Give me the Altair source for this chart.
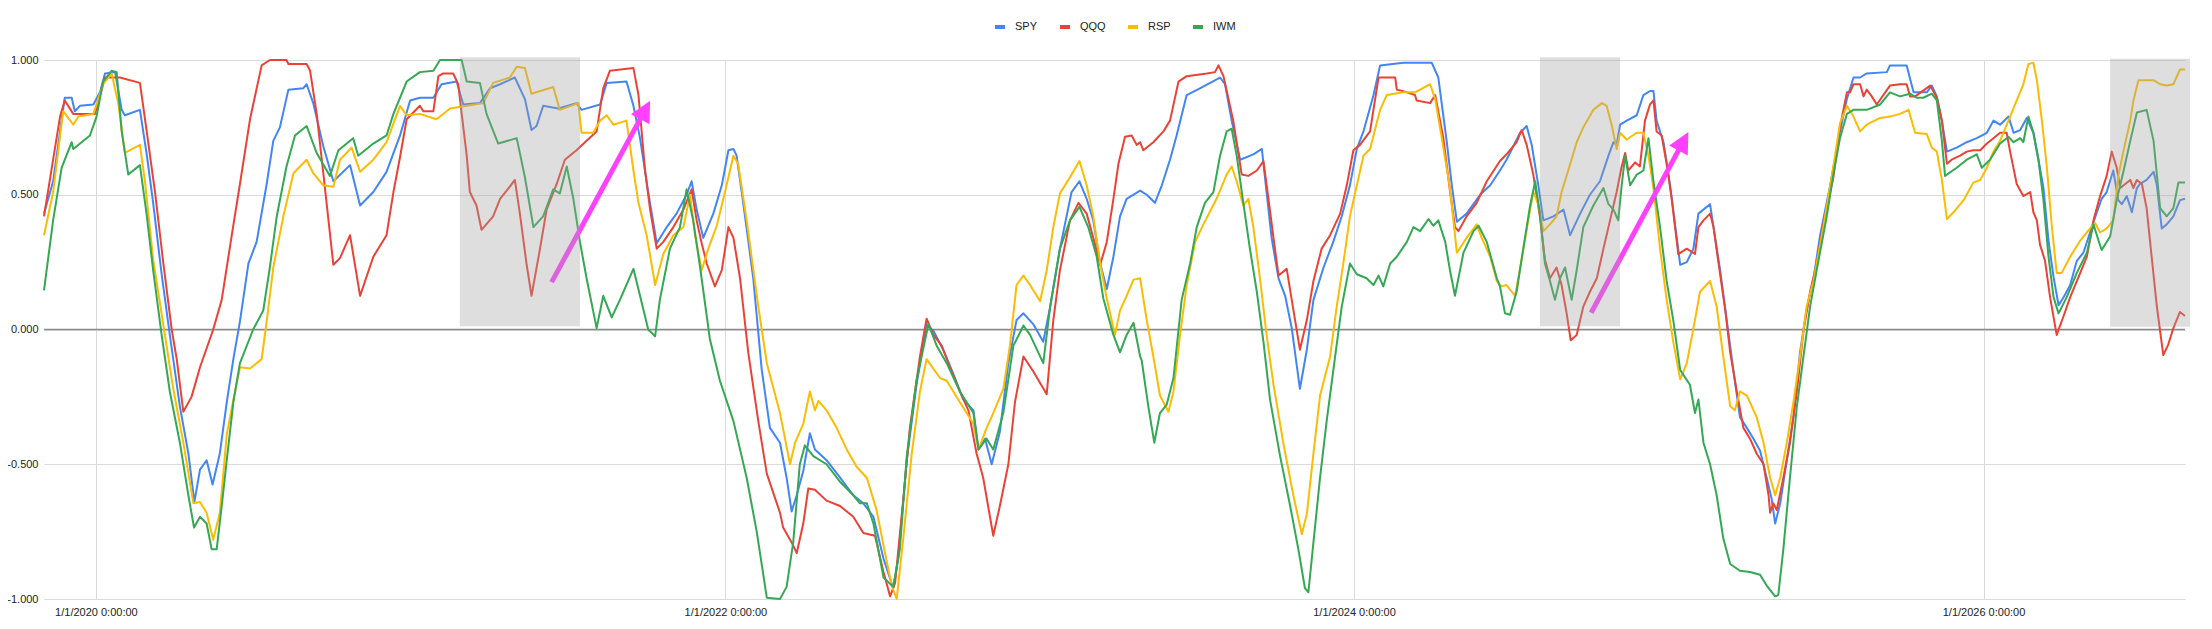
import altair as alt
import pandas as pd

# Rolling correlation readings, x as decimal year, one pair of lists per ETF
SPY_T = [2019.835, 2019.864, 2019.901, 2019.923, 2019.933, 2019.949, 2019.992, 2020.013, 2020.029, 2020.061,
         2020.082, 2020.092, 2020.140, 2020.161, 2020.182, 2020.209, 2020.235, 2020.267, 2020.294, 2020.313,
         2020.331, 2020.352, 2020.371, 2020.394, 2020.416, 2020.437, 2020.458, 2020.485, 2020.511, 2020.543,
         2020.564, 2020.585, 2020.612, 2020.659, 2020.670, 2020.691, 2020.723, 2020.755, 2020.808, 2020.840,
         2020.882, 2020.924, 2020.967, 2020.999, 2021.030,
         2021.073, 2021.099, 2021.147, 2021.168, 2021.221, 2021.253, 2021.285, 2021.332, 2021.364, 2021.385,
         2021.401, 2021.422, 2021.470, 2021.528, 2021.544, 2021.603, 2021.624, 2021.687, 2021.709, 2021.730,
         2021.756, 2021.783, 2021.815, 2021.846, 2021.878, 2021.894, 2021.910, 2021.931, 2021.963, 2021.990,
         2022.011, 2022.027, 2022.037, 2022.058, 2022.090, 2022.117, 2022.143, 2022.175,
         2022.196, 2022.212, 2022.228, 2022.249, 2022.270, 2022.286, 2022.323, 2022.366, 2022.408, 2022.440,
         2022.472, 2022.504, 2022.535, 2022.551, 2022.578, 2022.609, 2022.641, 2022.663, 2022.694, 2022.726,
         2022.758, 2022.790, 2022.806, 2022.827, 2022.848, 2022.874, 2022.901, 2022.927, 2022.949, 2022.980,
         2023.012, 2023.034, 2023.065, 2023.102, 2023.127, 2023.150, 2023.171, 2023.193, 2023.214, 2023.235,
         2023.256, 2023.277, 2023.320,
         2023.341, 2023.367, 2023.389, 2023.415, 2023.436, 2023.468, 2023.510, 2023.574, 2023.590, 2023.611,
         2023.638, 2023.680, 2023.707, 2023.722, 2023.738, 2023.760, 2023.781, 2023.802, 2023.828, 2023.850,
         2023.871, 2023.903, 2023.934, 2023.961, 2023.987, 2024.009, 2024.030, 2024.062, 2024.083, 2024.157,
         2024.247, 2024.268, 2024.295, 2024.311, 2024.327, 2024.358, 2024.401, 2024.433, 2024.464,
         2024.485, 2024.528, 2024.549, 2024.565, 2024.586, 2024.602, 2024.634, 2024.666, 2024.687, 2024.719,
         2024.750, 2024.782, 2024.809, 2024.825, 2024.835, 2024.846, 2024.867, 2024.899, 2024.920, 2024.941,
         2024.952, 2024.962, 2024.984, 2025.005, 2025.037, 2025.058, 2025.079, 2025.095, 2025.132, 2025.143,
         2025.164, 2025.185, 2025.206, 2025.227, 2025.249, 2025.270, 2025.291, 2025.312, 2025.328, 2025.339,
         2025.355, 2025.376, 2025.397, 2025.418, 2025.439, 2025.461, 2025.482, 2025.514, 2025.545, 2025.567,
         2025.588, 2025.609,
         2025.630, 2025.694, 2025.704, 2025.757, 2025.779, 2025.821, 2025.837, 2025.853, 2025.869, 2025.885,
         2025.916, 2025.948, 2025.980, 2026.012, 2026.033, 2026.054, 2026.081, 2026.097, 2026.118, 2026.139,
         2026.160, 2026.176, 2026.192, 2026.208, 2026.224, 2026.240, 2026.256, 2026.277, 2026.298, 2026.319,
         2026.340, 2026.362, 2026.377, 2026.393, 2026.414, 2026.430, 2026.441, 2026.457, 2026.473, 2026.489,
         2026.499, 2026.520, 2026.542, 2026.552, 2026.568, 2026.584, 2026.605, 2026.626, 2026.642]
SPY_V = [0.43, 0.55, 0.86, 0.86, 0.81, 0.83, 0.835, 0.88, 0.95, 0.955,
         0.815, 0.795, 0.815, 0.655, 0.47, 0.205, -0.02, -0.285, -0.46, -0.64,
         -0.52, -0.485, -0.575, -0.46, -0.27, -0.11, 0.03, 0.245, 0.325, 0.54,
         0.70, 0.75, 0.89, 0.895, 0.91, 0.84, 0.68, 0.55, 0.61, 0.46,
         0.51, 0.585, 0.72, 0.85, 0.86,
         0.86, 0.91, 0.92, 0.835, 0.84, 0.895, 0.91, 0.935, 0.855, 0.74,
         0.755, 0.83, 0.82, 0.84, 0.815, 0.835, 0.915, 0.92, 0.83, 0.71,
         0.51, 0.32, 0.38, 0.43, 0.50, 0.55, 0.445, 0.34, 0.43, 0.535,
         0.665, 0.67, 0.645, 0.47, 0.19, -0.15, -0.365, -0.42,
         -0.55, -0.675, -0.615, -0.525, -0.385, -0.445, -0.485, -0.55, -0.615, -0.645,
         -0.695, -0.85, -0.96, -0.85, -0.485, -0.205, 0.02, -0.005, -0.075, -0.165,
         -0.26, -0.30, -0.445, -0.405, -0.50, -0.38, -0.125, 0.035, 0.06, 0.02,
         -0.045, 0.085, 0.30, 0.51, 0.55, 0.485, 0.405, 0.245, 0.15, 0.27,
         0.42, 0.485, 0.515,
         0.50, 0.47, 0.535, 0.63, 0.72, 0.87, 0.895, 0.935, 0.91, 0.775,
         0.63, 0.65, 0.67, 0.51, 0.34, 0.19, 0.125, 0.005, -0.22, -0.075,
         0.11, 0.23, 0.325, 0.42, 0.535, 0.67, 0.735, 0.87, 0.98, 0.99,
         0.99, 0.935, 0.695, 0.535, 0.40, 0.43, 0.50, 0.535, 0.59,
         0.63, 0.73, 0.755, 0.685, 0.535, 0.405, 0.42, 0.445, 0.35, 0.43,
         0.50, 0.55, 0.645, 0.695, 0.685, 0.76, 0.775, 0.795, 0.87, 0.885,
         0.885, 0.775, 0.695, 0.535, 0.24, 0.25, 0.30, 0.43, 0.465, 0.38,
         0.22, 0.035, -0.15, -0.325, -0.365, -0.405, -0.45, -0.55, -0.63, -0.72,
         -0.645, -0.485, -0.325, -0.085, 0.075, 0.19, 0.35, 0.535, 0.735, 0.855,
         0.935, 0.935,
         0.95, 0.955, 0.98, 0.98, 0.88, 0.88, 0.905, 0.865, 0.775, 0.66,
         0.675, 0.695, 0.71, 0.73, 0.775, 0.76, 0.79, 0.73, 0.74, 0.785,
         0.73, 0.63, 0.525, 0.33, 0.195, 0.09, 0.12, 0.165, 0.255, 0.285,
         0.36, 0.435, 0.485, 0.51, 0.59, 0.48, 0.465, 0.495, 0.435, 0.525,
         0.54, 0.555, 0.585, 0.54, 0.375, 0.39, 0.42, 0.48, 0.485]

QQQ_T = [2019.835, 2019.886, 2019.901, 2019.928, 2019.997, 2020.029, 2020.076, 2020.140, 2020.161, 2020.188,
         2020.214, 2020.241, 2020.257, 2020.278, 2020.304, 2020.331, 2020.373, 2020.400, 2020.432, 2020.458,
         2020.490, 2020.527, 2020.553, 2020.606, 2020.612, 2020.670, 2020.681, 2020.702, 2020.723, 2020.755,
         2020.776, 2020.808, 2020.840, 2020.882, 2020.924, 2020.946, 2020.967, 2020.988, 2021.030,
         2021.041, 2021.073, 2021.089, 2021.104, 2021.136, 2021.152, 2021.163, 2021.179, 2021.189, 2021.210,
         2021.226, 2021.263, 2021.285, 2021.316, 2021.332, 2021.348, 2021.369, 2021.385, 2021.412, 2021.433,
         2021.465, 2021.491, 2021.528, 2021.560, 2021.592, 2021.613, 2021.634, 2021.709, 2021.725, 2021.746,
         2021.762, 2021.783, 2021.804, 2021.836, 2021.868, 2021.894, 2021.910, 2021.926, 2021.942, 2021.968,
         2021.990, 2022.011, 2022.027, 2022.048, 2022.074, 2022.106, 2022.133, 2022.175,
         2022.185, 2022.212, 2022.228, 2022.249, 2022.265, 2022.286, 2022.323, 2022.366, 2022.408, 2022.440,
         2022.477, 2022.504, 2022.525, 2022.541, 2022.567, 2022.588, 2022.620, 2022.641, 2022.663, 2022.689,
         2022.715, 2022.747, 2022.774, 2022.800, 2022.821, 2022.853, 2022.874, 2022.901, 2022.922, 2022.949,
         2022.980, 2023.023, 2023.044, 2023.065, 2023.097, 2023.124, 2023.150, 2023.171, 2023.193, 2023.214,
         2023.235, 2023.251, 2023.272, 2023.293, 2023.309, 2023.320,
         2023.330, 2023.362, 2023.394, 2023.415, 2023.442, 2023.468, 2023.532, 2023.558, 2023.569, 2023.585,
         2023.616, 2023.643, 2023.664, 2023.691, 2023.712, 2023.728, 2023.744, 2023.760, 2023.786, 2023.802,
         2023.828, 2023.850, 2023.871, 2023.897, 2023.924, 2023.956, 2023.977, 2023.998, 2024.019, 2024.051,
         2024.078, 2024.115, 2024.131, 2024.136, 2024.168, 2024.194, 2024.199, 2024.242, 2024.258, 2024.284,
         2024.305, 2024.321, 2024.332, 2024.358, 2024.390, 2024.422, 2024.464,
         2024.485, 2024.517, 2024.533, 2024.549, 2024.570, 2024.591, 2024.607, 2024.623, 2024.644, 2024.660,
         2024.676, 2024.689, 2024.708, 2024.729, 2024.750, 2024.772, 2024.793, 2024.814, 2024.835, 2024.851,
         2024.862, 2024.872, 2024.894, 2024.909, 2024.925, 2024.941, 2024.952, 2024.962, 2024.978, 2024.994,
         2025.010, 2025.031, 2025.058, 2025.084, 2025.095, 2025.111, 2025.132, 2025.143, 2025.159, 2025.180,
         2025.196, 2025.217, 2025.238, 2025.259, 2025.280, 2025.302, 2025.318, 2025.323, 2025.333, 2025.344,
         2025.365, 2025.386, 2025.408, 2025.429, 2025.450, 2025.471, 2025.492, 2025.524, 2025.545, 2025.567,
         2025.577, 2025.588, 2025.609,
         2025.620, 2025.630, 2025.646, 2025.662, 2025.704, 2025.736, 2025.757, 2025.768, 2025.784, 2025.832,
         2025.853, 2025.869, 2025.885, 2025.900, 2025.927, 2025.948, 2025.969, 2025.991, 2026.012, 2026.033,
         2026.054, 2026.075, 2026.086, 2026.107, 2026.128, 2026.150, 2026.160, 2026.171, 2026.181, 2026.197,
         2026.213, 2026.234, 2026.256, 2026.277, 2026.309, 2026.330, 2026.351, 2026.372, 2026.393, 2026.409,
         2026.425, 2026.436, 2026.452, 2026.468, 2026.478, 2026.489, 2026.505, 2026.520, 2026.536, 2026.552,
         2026.573, 2026.589, 2026.605, 2026.626, 2026.642]
QQQ_V = [0.42, 0.79, 0.85, 0.80, 0.80, 0.935, 0.935, 0.915, 0.74, 0.51,
         0.25, 0.0, -0.11, -0.305, -0.25, -0.14, 0.0, 0.11, 0.35, 0.54,
         0.78, 0.98, 1.0, 1.0, 0.985, 0.985, 0.96, 0.80, 0.58, 0.24,
         0.265, 0.35, 0.125, 0.27, 0.35, 0.51, 0.64, 0.78, 0.83,
         0.81, 0.81, 0.94, 0.95, 0.95, 0.91, 0.80, 0.645, 0.51, 0.46,
         0.37, 0.42, 0.485, 0.53, 0.555, 0.43, 0.245, 0.125, 0.30, 0.445,
         0.54, 0.63, 0.665, 0.70, 0.735, 0.895, 0.96, 0.97, 0.87, 0.59,
         0.445, 0.30, 0.325, 0.38, 0.445, 0.52, 0.405, 0.32, 0.245, 0.16,
         0.22, 0.38, 0.34, 0.19, -0.085, -0.34, -0.535, -0.68,
         -0.735, -0.79, -0.83, -0.72, -0.59, -0.595, -0.635, -0.655, -0.695, -0.755,
         -0.765, -0.90, -0.99, -0.94, -0.63, -0.365, -0.10, 0.04, -0.02, -0.06,
         -0.14, -0.23, -0.30, -0.46, -0.55, -0.765, -0.655, -0.50, -0.27, -0.10,
         -0.155, -0.24, 0.035, 0.22, 0.405, 0.47, 0.43, 0.34, 0.24, 0.325,
         0.485, 0.615, 0.715, 0.72, 0.685, 0.695,
         0.665, 0.695, 0.735, 0.775, 0.92, 0.94, 0.95, 0.955, 0.98, 0.94,
         0.775, 0.575, 0.57, 0.59, 0.625, 0.485, 0.34, 0.20, 0.225, 0.11,
         -0.075, 0.035, 0.18, 0.30, 0.35, 0.43, 0.535, 0.665, 0.685, 0.735,
         0.935, 0.935, 0.935, 0.89, 0.88, 0.87, 0.85, 0.84, 0.87, 0.71,
         0.515, 0.38, 0.365, 0.42, 0.47, 0.55, 0.625,
         0.65, 0.695, 0.74, 0.685, 0.575, 0.42, 0.26, 0.19, 0.23, 0.165,
         0.06, -0.04, -0.02, 0.085, 0.14, 0.19, 0.30, 0.405, 0.51, 0.605,
         0.655, 0.59, 0.62, 0.605, 0.775, 0.835, 0.85, 0.735, 0.72, 0.615,
         0.485, 0.28, 0.30, 0.28, 0.38, 0.405, 0.43, 0.38, 0.245, 0.075,
         -0.085, -0.23, -0.365, -0.405, -0.46, -0.50, -0.615, -0.68, -0.645, -0.67,
         -0.55, -0.42, -0.23, -0.005, 0.14, 0.245, 0.39, 0.565, 0.75, 0.88,
         0.88, 0.91, 0.91,
         0.865, 0.89, 0.865, 0.835, 0.905, 0.91, 0.91, 0.865, 0.865, 0.905,
         0.86, 0.775, 0.615, 0.63, 0.645, 0.66, 0.665, 0.665, 0.69, 0.71,
         0.73, 0.73, 0.66, 0.54, 0.495, 0.51, 0.435, 0.405, 0.315, 0.255,
         0.12, -0.02, 0.05, 0.12, 0.21, 0.27, 0.405, 0.495, 0.57, 0.66,
         0.60, 0.525, 0.54, 0.555, 0.525, 0.555, 0.54, 0.45, 0.27, 0.09,
         -0.095, -0.055, 0.005, 0.065, 0.05]

RSP_T = [2019.835, 2019.864, 2019.896, 2019.928, 2019.944, 2019.992, 2020.023, 2020.050, 2020.071, 2020.092,
         2020.140, 2020.156, 2020.182, 2020.214, 2020.246, 2020.278, 2020.310, 2020.331, 2020.352, 2020.373,
         2020.394, 2020.416, 2020.437, 2020.458, 2020.490, 2020.527, 2020.543, 2020.564, 2020.596, 2020.628,
         2020.670, 2020.691, 2020.723, 2020.755, 2020.776, 2020.813, 2020.840, 2020.882, 2020.924, 2020.967,
         2020.988, 2021.030,
         2021.083, 2021.126, 2021.179, 2021.232, 2021.263, 2021.316, 2021.338, 2021.364, 2021.385, 2021.454,
         2021.475, 2021.534, 2021.544, 2021.581, 2021.603, 2021.624, 2021.645, 2021.687, 2021.709, 2021.725,
         2021.751, 2021.778, 2021.804, 2021.836, 2021.868, 2021.889, 2021.905, 2021.926, 2021.947, 2021.974,
         2022.000, 2022.027, 2022.042, 2022.069, 2022.106, 2022.133, 2022.175,
         2022.180, 2022.207, 2022.223, 2022.249, 2022.270, 2022.286, 2022.297, 2022.323, 2022.355, 2022.387,
         2022.419, 2022.451, 2022.482, 2022.509, 2022.530, 2022.546, 2022.567, 2022.594, 2022.620, 2022.641,
         2022.684, 2022.705, 2022.747, 2022.790, 2022.806, 2022.832, 2022.853, 2022.885, 2022.906, 2022.927,
         2022.949, 2022.970, 2023.002, 2023.023, 2023.044, 2023.065, 2023.097, 2023.127, 2023.150, 2023.171,
         2023.193, 2023.214, 2023.240, 2023.256, 2023.277, 2023.299, 2023.320,
         2023.341, 2023.362, 2023.383, 2023.410, 2023.426, 2023.447, 2023.468, 2023.495, 2023.521, 2023.563,
         2023.595, 2023.611, 2023.627, 2023.648, 2023.664, 2023.680, 2023.701, 2023.722, 2023.744, 2023.775,
         2023.807, 2023.834, 2023.850, 2023.871, 2023.892, 2023.924, 2023.945, 2023.966, 2023.987, 2024.009,
         2024.030, 2024.051, 2024.083, 2024.104, 2024.157, 2024.194, 2024.242, 2024.258, 2024.279, 2024.305,
         2024.327, 2024.358, 2024.390, 2024.406, 2024.433, 2024.454, 2024.464,
         2024.470, 2024.485, 2024.512, 2024.533, 2024.554, 2024.570, 2024.586, 2024.602, 2024.623, 2024.644,
         2024.660, 2024.681, 2024.708, 2024.729, 2024.761, 2024.788, 2024.803, 2024.819, 2024.835, 2024.846,
         2024.867, 2024.899, 2024.920, 2024.936, 2024.952, 2024.973, 2024.994, 2025.015, 2025.037, 2025.058,
         2025.084, 2025.100, 2025.132, 2025.153, 2025.174, 2025.196, 2025.211, 2025.227, 2025.249, 2025.280,
         2025.302, 2025.323, 2025.339, 2025.355, 2025.376, 2025.397, 2025.418, 2025.439, 2025.461, 2025.492,
         2025.524, 2025.545, 2025.567, 2025.588, 2025.609,
         2025.630, 2025.673, 2025.704, 2025.736, 2025.763, 2025.784, 2025.821, 2025.837, 2025.853, 2025.869,
         2025.885, 2025.906, 2025.938, 2025.969, 2025.991, 2026.012, 2026.033, 2026.054, 2026.086, 2026.107,
         2026.128, 2026.144, 2026.160, 2026.171, 2026.187, 2026.203, 2026.218, 2026.234, 2026.250, 2026.277,
         2026.309, 2026.340, 2026.356, 2026.372, 2026.393, 2026.414, 2026.430, 2026.446, 2026.468, 2026.478,
         2026.494, 2026.520, 2026.542, 2026.563, 2026.584, 2026.605, 2026.626, 2026.642]
RSP_V = [0.35, 0.51, 0.81, 0.76, 0.79, 0.80, 0.91, 0.95, 0.84, 0.655,
         0.685, 0.55, 0.26, 0.02, -0.22, -0.42, -0.645, -0.64, -0.68, -0.78,
         -0.68, -0.39, -0.26, -0.14, -0.145, -0.11, 0.03, 0.23, 0.42, 0.58,
         0.63, 0.58, 0.535, 0.53, 0.63, 0.675, 0.585, 0.63, 0.695, 0.83,
         0.795, 0.80,
         0.78, 0.82, 0.83, 0.84, 0.915, 0.935, 0.975, 0.97, 0.875, 0.90,
         0.815, 0.84, 0.73, 0.73, 0.775, 0.795, 0.76, 0.775, 0.59, 0.47,
         0.35, 0.165, 0.28, 0.35, 0.38, 0.50, 0.35, 0.22, 0.30, 0.385,
         0.51, 0.645, 0.615, 0.405, 0.085, -0.125, -0.31,
         -0.34, -0.50, -0.42, -0.35, -0.23, -0.30, -0.265, -0.30, -0.365, -0.445,
         -0.51, -0.55, -0.67, -0.83, -0.95, -1.0, -0.775, -0.46, -0.23, -0.11,
         -0.18, -0.19, -0.27, -0.35, -0.445, -0.365, -0.31, -0.22, -0.06, 0.165,
         0.20, 0.165, 0.105, 0.22, 0.38, 0.505, 0.565, 0.625, 0.535, 0.42,
         0.245, 0.115, -0.02, 0.07, 0.125, 0.185, 0.19,
         0.035, -0.10, -0.245, -0.305, -0.23, -0.02, 0.165, 0.325, 0.39, 0.485,
         0.575, 0.605, 0.55, 0.46, 0.485, 0.38, 0.19, -0.02, -0.205, -0.42,
         -0.615, -0.76, -0.685, -0.46, -0.245, -0.10, 0.085, 0.245, 0.42, 0.535,
         0.645, 0.67, 0.815, 0.87, 0.88, 0.88, 0.91, 0.855, 0.71, 0.525,
         0.285, 0.34, 0.39, 0.34, 0.27, 0.18, 0.165,
         0.16, 0.165, 0.125, 0.26, 0.405, 0.51, 0.465, 0.365, 0.39, 0.42,
         0.51, 0.59, 0.695, 0.75, 0.815, 0.84, 0.83, 0.76, 0.67, 0.73,
         0.705, 0.73, 0.73, 0.645, 0.525, 0.30, 0.11, -0.045, -0.185, -0.125,
         0.035, 0.14, 0.18, 0.085, -0.10, -0.285, -0.30, -0.23, -0.245, -0.325,
         -0.42, -0.55, -0.615, -0.55, -0.42, -0.27, -0.10, 0.085, 0.18, 0.38,
         0.605, 0.765, 0.83, 0.79, 0.735,
         0.76, 0.785, 0.79, 0.80, 0.815, 0.73, 0.725, 0.675, 0.66, 0.555,
         0.41, 0.435, 0.48, 0.545, 0.555, 0.60, 0.66, 0.70, 0.79, 0.85,
         0.91, 0.985, 0.99, 0.925, 0.775, 0.60, 0.39, 0.21, 0.21, 0.27,
         0.33, 0.375, 0.395, 0.36, 0.375, 0.405, 0.57, 0.66, 0.775, 0.85,
         0.925, 0.925, 0.925, 0.91, 0.905, 0.91, 0.965, 0.965]

IWM_T = [2019.835, 2019.864, 2019.891, 2019.923, 2019.928, 2019.981, 2020.002, 2020.023, 2020.050, 2020.066,
         2020.082, 2020.103, 2020.140, 2020.161, 2020.182, 2020.209, 2020.235, 2020.267, 2020.294, 2020.312,
         2020.331, 2020.352, 2020.368, 2020.384, 2020.400, 2020.416, 2020.437, 2020.458, 2020.500, 2020.532,
         2020.553, 2020.575, 2020.606, 2020.633, 2020.670, 2020.702, 2020.744, 2020.771, 2020.818, 2020.834,
         2020.882, 2020.924, 2020.946, 2020.988, 2021.030,
         2021.073, 2021.094, 2021.163, 2021.179, 2021.221, 2021.242, 2021.279, 2021.338, 2021.364, 2021.391,
         2021.422, 2021.454, 2021.475, 2021.497, 2021.518, 2021.539, 2021.560, 2021.592, 2021.613, 2021.640,
         2021.666, 2021.709, 2021.730, 2021.756, 2021.778, 2021.793, 2021.825, 2021.857, 2021.878, 2021.899,
         2021.921, 2021.952, 2021.984, 2022.027, 2022.069, 2022.101, 2022.133, 2022.175,
         2022.196, 2022.217, 2022.238, 2022.254, 2022.281, 2022.323, 2022.366, 2022.408, 2022.429, 2022.451,
         2022.472, 2022.504, 2022.535, 2022.556, 2022.578, 2022.609, 2022.647, 2022.673, 2022.705, 2022.747,
         2022.790, 2022.806, 2022.832, 2022.853, 2022.885, 2022.917, 2022.949, 2022.970, 2023.002, 2023.012,
         2023.034, 2023.065, 2023.097, 2023.127, 2023.155, 2023.182, 2023.203, 2023.235, 2023.256, 2023.277,
         2023.299, 2023.320,
         2023.325, 2023.346, 2023.365, 2023.383, 2023.404, 2023.426, 2023.452, 2023.479, 2023.500, 2023.526,
         2023.553, 2023.574, 2023.595, 2023.611, 2023.627, 2023.648, 2023.669, 2023.691, 2023.712, 2023.733,
         2023.765, 2023.797, 2023.823, 2023.844, 2023.855, 2023.871, 2023.892, 2023.913, 2023.940, 2023.961,
         2023.987, 2024.009, 2024.040, 2024.062, 2024.078, 2024.093, 2024.115, 2024.136, 2024.168, 2024.189,
         2024.210, 2024.237, 2024.252, 2024.268, 2024.290, 2024.305, 2024.321, 2024.348, 2024.380, 2024.396,
         2024.422, 2024.454, 2024.464,
         2024.480, 2024.496, 2024.517, 2024.538, 2024.560, 2024.576, 2024.591, 2024.607, 2024.623, 2024.639,
         2024.655, 2024.671, 2024.692, 2024.708, 2024.729, 2024.761, 2024.793, 2024.809, 2024.825, 2024.840,
         2024.851, 2024.862, 2024.878, 2024.899, 2024.920, 2024.936, 2024.952, 2024.973, 2024.994, 2025.015,
         2025.037, 2025.068, 2025.084, 2025.095, 2025.111, 2025.132, 2025.153, 2025.174, 2025.196, 2025.227,
         2025.259, 2025.291, 2025.312, 2025.339, 2025.349, 2025.365, 2025.386, 2025.408, 2025.429, 2025.450,
         2025.471, 2025.503, 2025.524, 2025.545, 2025.567, 2025.588, 2025.609,
         2025.630, 2025.673, 2025.704, 2025.736, 2025.768, 2025.789, 2025.810, 2025.837, 2025.853, 2025.869,
         2025.879, 2025.916, 2025.948, 2025.980, 2025.996, 2026.022, 2026.054, 2026.081, 2026.097, 2026.118,
         2026.128, 2026.144, 2026.160, 2026.176, 2026.192, 2026.208, 2026.224, 2026.240, 2026.266, 2026.298,
         2026.330, 2026.351, 2026.367, 2026.377, 2026.404, 2026.425, 2026.446, 2026.468, 2026.489, 2026.520,
         2026.542, 2026.563, 2026.584, 2026.605, 2026.621, 2026.642]
IWM_V = [0.145, 0.405, 0.60, 0.695, 0.67, 0.72, 0.79, 0.92, 0.96, 0.955,
         0.735, 0.575, 0.61, 0.43, 0.22, -0.02, -0.23, -0.42, -0.615, -0.735,
         -0.695, -0.72, -0.815, -0.815, -0.655, -0.485, -0.27, -0.125, 0.0, 0.07,
         0.23, 0.42, 0.605, 0.72, 0.755, 0.655, 0.57, 0.665, 0.71, 0.645,
         0.69, 0.72, 0.80, 0.92, 0.955,
         0.96, 1.0, 1.0, 0.92, 0.915, 0.80, 0.69, 0.71, 0.565, 0.38,
         0.42, 0.52, 0.505, 0.605, 0.485, 0.325, 0.19, 0.005, 0.125, 0.045,
         0.11, 0.225, 0.125, 0.0, -0.025, 0.11, 0.30, 0.38, 0.52, 0.405,
         0.23, -0.035, -0.19, -0.34, -0.55, -0.75, -0.995, -1.0,
         -0.955, -0.79, -0.50, -0.43, -0.47, -0.50, -0.565, -0.615, -0.645, -0.645,
         -0.72, -0.92, -0.955, -0.815, -0.47, -0.19, 0.02, -0.06, -0.125, -0.23,
         -0.31, -0.445, -0.405, -0.445, -0.31, -0.06, 0.015, -0.02, -0.10, -0.125,
         0.085, 0.30, 0.405, 0.455, 0.38, 0.27, 0.115, -0.02, -0.085, -0.02,
         0.025, -0.10,
         -0.115, -0.285, -0.42, -0.31, -0.28, -0.18, 0.11, 0.245, 0.38, 0.47,
         0.51, 0.645, 0.735, 0.745, 0.645, 0.47, 0.30, 0.14, -0.045, -0.26,
         -0.47, -0.655, -0.815, -0.96, -0.975, -0.79, -0.55, -0.34, -0.10, 0.085,
         0.245, 0.205, 0.19, 0.165, 0.20, 0.16, 0.245, 0.27, 0.325, 0.38,
         0.365, 0.41, 0.385, 0.405, 0.325, 0.22, 0.125, 0.285, 0.365, 0.385,
         0.325, 0.19, 0.16,
         0.06, 0.055, 0.14, 0.30, 0.46, 0.55, 0.43, 0.245, 0.18, 0.11,
         0.19, 0.23, 0.11, 0.22, 0.38, 0.46, 0.525, 0.465, 0.445, 0.405,
         0.535, 0.645, 0.535, 0.575, 0.59, 0.71, 0.55, 0.38, 0.18, 0.035,
         -0.15, -0.205, -0.31, -0.26, -0.42, -0.50, -0.615, -0.775, -0.87, -0.895,
         -0.90, -0.91, -0.95, -0.99, -0.985, -0.815, -0.55, -0.285, -0.10, 0.085,
         0.22, 0.42, 0.575, 0.71, 0.80, 0.815, 0.815,
         0.815, 0.835, 0.88, 0.865, 0.875, 0.86, 0.86, 0.875, 0.85, 0.70,
         0.57, 0.60, 0.63, 0.65, 0.60, 0.63, 0.69, 0.715, 0.695, 0.71,
         0.695, 0.79, 0.73, 0.63, 0.48, 0.27, 0.12, 0.06, 0.12, 0.21,
         0.285, 0.39, 0.33, 0.295, 0.345, 0.48, 0.585, 0.70, 0.805, 0.815,
         0.70, 0.45, 0.42, 0.45, 0.545, 0.545]

SERIES = ["SPY", "QQQ", "RSP", "IWM"]
COLORS = ["#4285F4", "#EA4335", "#FBBC04", "#34A853"]

# grey highlight windows drawn over the lines
SHADE_START = [2021.157, 2024.591, 2026.404]
SHADE_END = [2021.539, 2024.846, 2026.658]
SHADE_TOP = [1.01, 1.01, 1.005]
SHADE_BOTTOM = [0.012, 0.012, 0.01]

# magenta arrows: tail -> tip
ARROW_T0 = [2021.449, 2024.754]
ARROW_V0 = [0.176, 0.062]
ARROW_T1 = [2021.762, 2025.063]
ARROW_V1 = [0.849, 0.733]

TICK_YEARS = [2020, 2022, 2024, 2026]
Y_TICKS = [-1.0, -0.5, 0.0, 0.5, 1.0]

MAGENTA = "#ff40ff"
HEAD = "M0,0L-0.7,1.4L0.7,1.4Z"
FONT = "Liberation Sans"


def to_ms(years):
    base = pd.Timestamp("2020-01-01")
    return [int((base + pd.to_timedelta((y - 2020) * 365.25, unit="D")).value // 10**6) for y in years]


rows = []
for name, ts, vs in [("SPY", SPY_T, SPY_V), ("QQQ", QQQ_T, QQQ_V), ("RSP", RSP_T, RSP_V), ("IWM", IWM_T, IWM_V)]:
    for t, v in zip(to_ms(ts), vs):
        rows.append({"series": name, "t": t, "value": v})
lines_df = pd.DataFrame(rows)

shade_df = pd.DataFrame({"t0": to_ms(SHADE_START), "t1": to_ms(SHADE_END),
                         "top": SHADE_TOP, "bottom": SHADE_BOTTOM})

# shaft stops a little short of the tip so the head covers its end
shaft_end_t = [a + 0.93 * (b - a) for a, b in zip(ARROW_T0, ARROW_T1)]
shaft_end_v = [a + 0.93 * (b - a) for a, b in zip(ARROW_V0, ARROW_V1)]
arrow_df = pd.DataFrame({"t0": to_ms(ARROW_T0), "v0": ARROW_V0,
                         "te": to_ms(shaft_end_t), "ve": shaft_end_v,
                         "t1": to_ms(ARROW_T1), "v1": ARROW_V1})
zero_df = pd.DataFrame({"v0": [0.0]})

tick_ms = [int(pd.Timestamp(f"{y}-01-01").value // 10**6) for y in TICK_YEARS]
x_scale = alt.Scale(type="utc", domain=[to_ms([SPY_T[0]])[0], to_ms([SPY_T[-1]])[0]])
y_scale = alt.Scale(domain=[-1, 1], nice=False, zero=False)

# the same axis objects go on every layer so the merged axes stay intact
x_axis = alt.Axis(values=tick_ms, title=None, grid=True, gridColor="#dadada", domain=False, ticks=False,
                  labelExpr="utcFormat(datum.value, '%-m/%-d/%Y') + ' 0:00:00'",
                  labelFont=FONT, labelFontSize=11, labelColor="#222", labelPadding=7)
y_axis = alt.Axis(values=Y_TICKS, title=None, grid=True, gridColor="#dadada", domain=False, ticks=False,
                  labelExpr="(datum.value < 0 ? '-' : '') + format(abs(datum.value), '.3f')",
                  labelFont=FONT, labelFontSize=11, labelColor="#222", labelPadding=6)


def X(field):
    return alt.X(field, scale=x_scale, axis=x_axis, title=None)


def Y(field):
    return alt.Y(field, scale=y_scale, axis=y_axis, title=None)


lines = alt.Chart(lines_df).mark_line(strokeWidth=2, strokeJoin="round").encode(
    x=X("t:T"),
    y=Y("value:Q"),
    color=alt.Color("series:N", scale=alt.Scale(domain=SERIES, range=COLORS),
                    legend=alt.Legend(title=None, orient="none", legendX=949, legendY=-40,
                                      direction="horizontal", symbolType="stroke", symbolStrokeWidth=4,
                                      symbolSize=100, labelFont=FONT, labelFontSize=11, labelColor="#222",
                                      labelOffset=8, columnPadding=14)),
    detail="series:N",
)

baseline = alt.Chart(zero_df).mark_rule(color="#8a8a8a", strokeWidth=1.5).encode(y=Y("v0:Q"))

shaft = alt.Chart(arrow_df).mark_rule(color=MAGENTA, strokeWidth=5).encode(
    x=X("t0:T"), y=Y("v0:Q"), x2="te:T", y2="ve:Q"
)
heads = alt.Chart(arrow_df).mark_point(shape=HEAD, size=900, angle=28, filled=True, opacity=1,
                                       color=MAGENTA, strokeWidth=0).encode(
    x=X("t1:T"), y=Y("v1:Q")
)

shades = alt.Chart(shade_df).mark_rect(color="#a0a0a0", opacity=0.35).encode(
    x=X("t0:T"), x2="t1:T", y=Y("top:Q"), y2="bottom:Q"
)

chart = alt.layer(baseline, lines, shaft, heads, shades).properties(
    width=2141, height=539,
    padding={"left": 36, "top": 52, "right": 19, "bottom": 22},
    autosize=alt.AutoSizeParams(type="none"),
    background="white",
).configure_view(stroke=None)

chart.save("out.html", embed_options={"renderer": "svg", "actions": False})
